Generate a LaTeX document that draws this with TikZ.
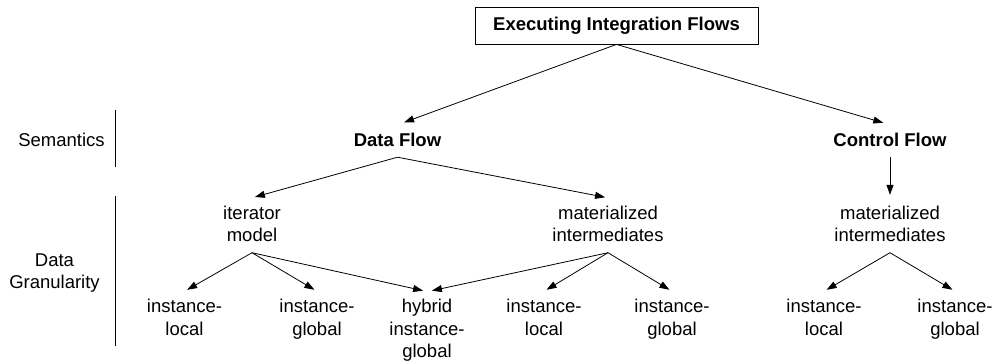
\documentclass[tikz,border=0pt]{standalone}
\usepackage{fontspec}
\setmainfont{Liberation Sans}
\usetikzlibrary{arrows.meta,calc}

% fixed-height struts so every line box has the same ascent and descent
\newcommand{\topS}{\rule{0pt}{14pt}}
\newcommand{\botS}{\rule[-4pt]{0pt}{4pt}}

\tikzset{
  lbl/.style={font=\fontsize{18.5}{22.5}\selectfont, align=center,
              inner xsep=0pt, inner ysep=7pt},
  boldlbl/.style={lbl, font=\fontsize{18.5}{22.5}\selectfont\bfseries},
  arr/.style={-{Triangle[length=10pt,width=7pt]}, line width=0.8pt, shorten >=3pt},
  rule/.style={line width=0.8pt},
}

\begin{document}
\begin{tikzpicture}[x=1pt,y=-1pt]
  \fill[white] (0,0) rectangle (995,360);
  \useasboundingbox (0,0) rectangle (995,360);

  % root
  \node[draw, line width=0.8pt, minimum width=283pt, minimum height=37pt,
        inner sep=0pt, font=\fontsize{18.5}{22.5}\selectfont\bfseries]
        (root) at (616.5,25.5) {\topS Executing Integration Flows\botS};

  % level labels and separators
  \node[lbl] (sem) at (61.5,141) {\topS Semantics\botS};
  \node[lbl] (gran) at (54.5,272.25) {\topS Data\\Granularity\botS};
  \coordinate (s1) at (115,110);
  \coordinate (s2) at (115,167);
  \coordinate (g1) at (115,196);
  \coordinate (g2) at (115,346);
  \draw[rule] (s1) -- (s2);
  \draw[rule] (g1) -- (g2);

  % semantics
  \node[boldlbl] (df) at (397.5,141) {\topS Data Flow\botS};
  \node[boldlbl] (cf) at (890,141) {\topS Control Flow\botS};

  % intermediate strategies
  \node[lbl] (it)  at (252,225.25) {\topS iterator\\model\botS};
  \node[lbl] (mi)  at (608,225.25) {\topS materialized\\intermediates\botS};
  \node[lbl] (mic) at (890,225.25) {\topS materialized\\intermediates\botS};

  % granularities
  \node[lbl] (il1) at (184.5,318.75) {\topS instance-\\local\botS};
  \node[lbl] (ig1) at (317,318.75) {\topS instance-\\global\botS};
  \node[lbl] (hy)  at (427,330) {\topS hybrid\\instance-\\global\botS};
  \node[lbl] (il2) at (544,318.75) {\topS instance-\\local\botS};
  \node[lbl] (ig2) at (672,318.75) {\topS instance-\\global\botS};
  \node[lbl] (il3) at (824,318.75) {\topS instance-\\local\botS};
  \node[lbl] (ig3) at (955,318.75) {\topS instance-\\global\botS};

  % connectors
  \draw[arr, shorten >=7pt] (root.south) -- (df.north);
  \draw[arr, shorten >=7pt] (root.south) -- (cf.north);
  \draw[arr] (df.south) -- (it.north);
  \draw[arr] (df.south) -- (mi.north);
  \draw[arr] (cf.south) -- (mic.north);

  \draw[arr] (it.south) -- (il1.north);
  \draw[arr] (it.south) -- (ig1.north);
  \draw[arr] (it.south) -- ([xshift=-1pt]hy.north);
  \draw[arr] (mi.south) -- ([xshift=2pt]hy.north);
  \draw[arr] (mi.south) -- (il2.north);
  \draw[arr] (mi.south) -- (ig2.north);
  \draw[arr] (mic.south) -- (il3.north);
  \draw[arr] (mic.south) -- (ig3.north);
\end{tikzpicture}
\end{document}
